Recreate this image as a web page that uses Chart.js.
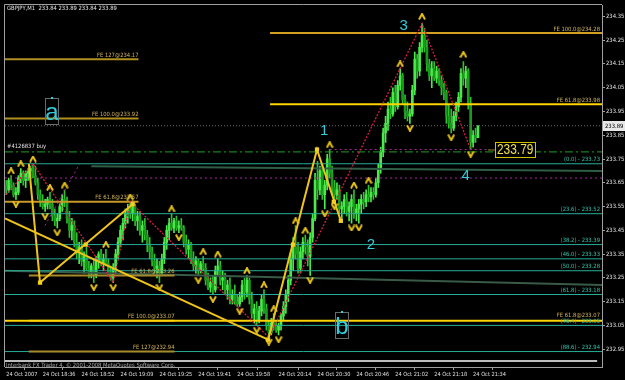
<!DOCTYPE html>
<html><head><meta charset="utf-8"><title>GBPJPY M1</title>
<script src="https://cdn.jsdelivr.net/npm/chart.js@4/dist/chart.umd.min.js"></script>
<style>html,body{margin:0;padding:0;background:#000;overflow:hidden}canvas{display:block}</style>
</head><body>
<canvas id="c" width="625" height="380"></canvas>
<script>
// ================= DATA =================
const symbol = 'GBPJPY,M1';
const opens = [
233.64,233.62,233.66,233.64,233.60,233.61,233.67,233.69,233.66,233.69,
233.70,233.71,233.68,233.65,233.60,233.57,233.55,233.56,233.58,233.56,
233.51,233.49,233.50,233.55,233.58,233.57,233.50,233.45,233.47,233.40,
233.36,233.38,233.32,233.34,233.29,233.27,233.30,233.26,233.32,233.35,
233.31,233.33,233.31,233.27,233.25,233.29,233.35,233.40,233.45,233.48,
233.52,233.54,233.52,233.55,233.49,233.51,233.45,233.47,233.43,233.39,
233.36,233.32,233.29,233.30,233.27,233.33,233.40,233.45,233.48,233.46,
233.49,233.46,233.47,233.46,233.40,233.37,233.39,233.33,233.30,233.32,
233.28,233.31,233.29,233.24,233.21,233.23,233.20,233.28,233.30,233.24,
233.25,233.20,233.22,233.16,233.18,233.15,233.14,233.17,233.22,233.19,
233.24,233.16,233.10,233.12,233.07,233.11,233.16,233.12,233.05,233.02,
233.06,233.05,233.03,233.05,233.09,233.13,233.18,233.24,233.33,233.38,
233.35,233.29,233.36,233.40,233.38,233.34,233.42,233.50,233.66,233.62,
233.70,233.60,233.64,233.75,233.69,233.63,233.60,233.62,233.54,233.55,
233.58,233.53,233.55,233.58,233.52,233.54,233.56,233.58,233.57,233.60,
233.59,233.61,233.60,233.65,233.71,233.78,233.86,233.90,233.96,233.94,
234.03,233.97,234.06,234.10,234.00,233.95,233.93,233.94,234.04,234.17,
234.12,234.22,234.27,234.22,234.15,234.10,234.13,234.09,234.12,234.08,
234.05,234.03,233.93,233.90,233.88,233.93,233.97,234.01,234.11,234.09,
234.12,233.98,233.82,233.85,233.84];
const highs = [
233.66,233.67,233.68,233.65,233.63,233.68,233.71,233.70,233.70,233.71,
233.72,233.73,233.72,233.67,233.62,233.60,233.58,233.59,233.61,233.58,
233.54,233.52,233.57,233.60,233.62,233.59,233.53,233.50,233.49,233.44,
233.40,233.41,233.36,233.38,233.32,233.31,233.33,233.34,233.36,233.37,
233.35,233.37,233.33,233.30,233.31,233.37,233.42,233.47,233.50,233.54,
233.56,233.57,233.56,233.56,233.53,233.53,233.49,233.50,233.45,233.42,
233.38,233.35,233.33,233.32,233.35,233.42,233.47,233.50,233.52,233.50,
233.51,233.49,233.50,233.47,233.43,233.41,233.40,233.36,233.34,233.33,
233.32,233.34,233.31,233.27,233.25,233.26,233.30,233.33,233.32,233.28,
233.27,233.24,233.25,233.20,233.22,233.18,233.19,233.24,233.25,233.26,
233.25,233.19,233.14,233.15,233.13,233.18,233.20,233.14,233.07,233.08,
233.10,233.07,233.06,233.10,233.15,233.20,233.26,233.36,233.42,233.47,
233.40,233.38,233.42,233.43,233.41,233.44,233.52,233.69,233.74,233.72,
233.73,233.66,233.77,233.79,233.72,233.66,233.65,233.64,233.57,233.60,
233.61,233.57,233.60,233.62,233.56,233.58,233.60,233.61,233.62,233.64,
233.63,233.63,233.67,233.73,233.80,233.88,233.93,233.99,234.01,234.05,
234.06,234.08,234.13,234.11,234.02,233.99,233.96,234.06,234.20,234.19,
234.24,234.32,234.30,234.25,234.17,234.16,234.16,234.14,234.13,234.10,
234.07,234.04,233.98,233.96,233.95,233.99,234.03,234.13,234.16,234.14,
234.13,234.01,233.87,233.88,233.89];
const lows = [
233.60,233.61,233.62,233.59,233.58,233.60,233.65,233.64,233.63,233.66,
233.67,233.67,233.64,233.58,233.55,233.54,233.53,233.54,233.54,233.49,
233.47,233.46,233.49,233.53,233.55,233.48,233.42,233.41,233.38,233.33,
233.31,233.30,233.27,233.28,233.25,233.25,233.23,233.25,233.29,233.30,
233.28,233.30,233.26,233.24,233.23,233.27,233.33,233.38,233.41,233.46,
233.48,233.50,233.49,233.47,233.45,233.43,233.40,233.41,233.36,233.33,
233.30,233.27,233.25,233.23,233.26,233.31,233.37,233.41,233.45,233.44,
233.45,233.44,233.45,233.38,233.35,233.33,233.31,233.28,233.27,233.26,
233.27,233.28,233.22,233.20,233.19,233.18,233.19,233.26,233.22,233.20,
233.18,233.16,233.14,233.14,233.14,233.13,233.13,233.15,233.16,233.17,
233.14,233.08,233.06,233.05,233.06,233.09,233.10,233.03,233.00,233.01,
233.03,233.02,233.01,233.03,233.07,233.10,233.15,233.22,233.28,233.33,
233.27,233.27,233.33,233.35,233.30,233.26,233.40,233.49,233.58,233.60,
233.58,233.54,233.62,233.67,233.60,233.57,233.58,233.52,233.50,233.52,
233.51,233.49,233.48,233.50,233.49,233.48,233.52,233.54,233.55,233.57,
233.57,233.58,233.59,233.63,233.69,233.76,233.82,233.87,233.92,233.93,
233.95,233.96,234.04,233.98,233.92,233.91,233.90,233.93,234.02,234.09,
234.10,234.20,234.20,234.12,234.08,234.05,234.08,234.07,234.06,234.02,
234.00,233.90,233.88,233.86,233.87,233.91,233.95,233.99,234.06,234.05,
233.96,233.79,233.80,233.82,233.84];
const closes = [
233.62,233.66,233.64,233.60,233.61,233.67,233.69,233.66,233.69,233.70,
233.71,233.68,233.65,233.60,233.57,233.55,233.56,233.58,233.56,233.51,
233.49,233.50,233.55,233.58,233.57,233.50,233.45,233.47,233.40,233.36,
233.38,233.32,233.34,233.29,233.27,233.30,233.26,233.32,233.35,233.31,
233.33,233.31,233.27,233.25,233.29,233.35,233.40,233.45,233.48,233.52,
233.54,233.52,233.55,233.49,233.51,233.45,233.47,233.43,233.39,233.36,
233.32,233.29,233.30,233.27,233.33,233.40,233.45,233.48,233.46,233.49,
233.46,233.47,233.46,233.40,233.37,233.39,233.33,233.30,233.32,233.28,
233.31,233.29,233.24,233.21,233.23,233.20,233.28,233.30,233.24,233.25,
233.20,233.22,233.16,233.18,233.15,233.14,233.17,233.22,233.19,233.24,
233.16,233.10,233.12,233.07,233.11,233.16,233.12,233.05,233.02,233.06,
233.05,233.03,233.05,233.09,233.13,233.18,233.24,233.33,233.38,233.35,
233.29,233.36,233.40,233.38,233.34,233.42,233.50,233.66,233.62,233.70,
233.60,233.64,233.75,233.69,233.63,233.60,233.62,233.54,233.55,233.58,
233.53,233.55,233.58,233.52,233.54,233.56,233.58,233.57,233.60,233.59,
233.61,233.60,233.65,233.71,233.78,233.86,233.90,233.96,233.94,234.03,
233.97,234.06,234.10,234.00,233.95,233.93,233.94,234.04,234.17,234.12,
234.22,234.27,234.22,234.15,234.10,234.13,234.09,234.12,234.08,234.05,
234.03,233.93,233.90,233.88,233.93,233.97,234.01,234.11,234.09,234.12,
233.98,233.82,233.85,233.84,233.89];

const timeTickBars = [0,15,31,47,63,79,95,112,128,144,160,176,192];
const timeTickLabels = ['24 Oct 2007','24 Oct 18:36','24 Oct 18:52','24 Oct 19:09','24 Oct 19:25','24 Oct 19:41',
  '24 Oct 19:58','24 Oct 20:14','24 Oct 20:30','24 Oct 20:46','24 Oct 21:02','24 Oct 21:18','24 Oct 21:34'];
const priceTicks = [232.95,233.05,233.15,233.25,233.35,233.45,233.55,233.65,233.75,233.85,233.95,234.05,234.15,234.25,234.35];

const upFractalBars   = [2,6,11,18,24,41,51,68,81,87,99,106,110,119,123,133,143,149,162,171,188];
const upFractalPrices = [233.70,233.73,233.75,233.63,233.64,233.39,233.59,233.54,233.36,233.35,233.28,233.22,233.12,233.49,233.45,233.81,233.64,233.66,234.15,234.35,234.19];
const downFractalBars   = [4,16,21,36,44,63,71,79,85,96,103,108,112,125,131,135,142,145,166,183,191];
const downFractalPrices = [233.56,233.51,233.44,233.21,233.21,233.21,233.42,233.24,233.16,233.11,233.03,232.98,232.99,233.24,233.52,233.55,233.46,233.46,233.88,233.84,233.77];

const fibLevels = ['0.0','23.6','38.2','46.0','50.0','61.8','76.4','88.6'];
const fibPrices = [233.73,233.52,233.39,233.33,233.28,233.18,233.05,232.94];

const feLeftLabels = ['FE 127@234.17','FE 100.0@233.92','FE 61.8@233.57'];
const feLeftPrices = [234.17,233.92,233.57];
const feLeftSpan = [-0.5,54.4];
const feMidLabels = ['FE 61.8@233.26','FE 100.0@233.07','FE 127@232.94'];
const feMidPrices = [233.26,233.07,232.94];
const feMidSpan = [9.3,69.2];
const feRightLabels = ['FE 100.0@234.28','FE 61.8@233.98'];
const feRightPrices = [234.28,233.98];
const feRightSpan = [108.5,245];
const feFullLabel = 'FE 61.8@233.07';
const feFullPrice = 233.07;

const zigzagBars   = [0,11,44,51,108,171,191];
const zigzagPrices = [233.60,233.73,233.23,233.57,233.00,234.32,233.79];
const waveABars = [9.3,13.9,52];       const waveAPrices = [233.73,233.23,233.56];
const waveBBars = [-0.5,107.7];        const waveBPrices = [233.50,232.99];
const wave12Bars = [107.7,127.8,137.6]; const wave12Prices = [232.99,233.79,233.49];
const markerBars   = [13.9,32.7,52,107.7,117.9,127.8,134.7,137.6];
const markerPrices = [233.23,233.39,233.56,232.99,233.39,233.79,233.57,233.49];

const waveLabels = ['1','2','3','4'];
const waveLabelBars = [130.7,150,163.4,188.9];
const waveLabelPrices = [233.87,233.39,234.31,233.68];
const boxLabels = ['a','b'];
const boxBars = [18.8,138];
const boxPrices = [233.95,233.05];

const orderTicket = '#4126837 buy';
const orderPrice = 233.78;
const arrowPrice = 233.79;
const arrowBar = 201;
const purpleLevel = 233.67;
const purpleShortPrice = 233.79;
const purpleShortSpan = [133,199];
const purpleDiagBars = [15.9,30.2];  const purpleDiagPrices = [233.47,233.73];
const dimUpperBars = [35,245];       const dimUpperPrices = [233.72,233.70];
const dimLowerBars = [-0.5,245];     const dimLowerPrices = [233.28,233.22];
const greyLevel = 232.90;
const copyright = 'Interbank FX Trader 4, \u00a9 2001-2008 MetaQuotes Software Corp.';

const xMin = -0.5, xMax = 245;
const yMin = 232.875, yMax = 234.398;

// ================= STYLE =================
const measureCtx = document.createElement('canvas').getContext('2d');
function fontOK(name){
  const s='234.35 24 Oct 18:36 FE abc';
  measureCtx.font='40px monospace'; const w1=measureCtx.measureText(s).width;
  measureCtx.font="40px '"+name+"', monospace"; const w2=measureCtx.measureText(s).width;
  return Math.abs(w1-w2)>0.5;
}
let FAM = "'Liberation Sans', sans-serif";
if (fontOK('Liberation Sans Narrow')) FAM = "'Liberation Sans Narrow', sans-serif";
else if (fontOK('DejaVu Sans Condensed')) FAM = "'DejaVu Sans Condensed', sans-serif";
function unitWidth(s){ measureCtx.font='100px '+FAM; return measureCtx.measureText(s).width/100; }
const titleText = symbol+'  '+opens[opens.length-1].toFixed(2)+' '+highs[highs.length-1].toFixed(2)+' '+lows[lows.length-1].toFixed(2)+' '+closes[closes.length-1].toFixed(2);
const FSX = Math.min(9, 33/unitWidth('24 Oct 18:36'));
const FSY = Math.min(9, 18.5/unitWidth('234.35'));
const FST = Math.min(9, 110/unitWidth(titleText));

const BULL='#4be94b', BEAR='#1a9a1a', BEAR_WICK='#2fbf2f';
const TEAL='#26ad98', FE_TEXT='#d0b25a', CYAN='#33ccdd', YEL='#f0c419';

function pts(xs, ys){ return xs.map((x,i)=>({x:x, y:ys[i]})); }
function lineDS(data, color, width, dash, order){
  return {type:'line', data:data, borderColor:color, borderWidth:width, borderDash:dash||[],
          pointRadius:0, fill:false, tension:0, order:(order===undefined?10:order)};
}
function chevron(up){
  const c=document.createElement('canvas'); c.width=8; c.height=7;
  const g=c.getContext('2d'); g.strokeStyle='#e6c21a'; g.lineWidth=2; g.beginPath();
  if(up){ g.moveTo(1,6.5); g.lineTo(4,1); g.lineTo(7,6.5); }
  else { g.moveTo(1,0.5); g.lineTo(4,6); g.lineTo(7,0.5); }
  g.stroke(); return c;
}
const isUp = i => closes[i] >= opens[i];

const datasets = [];
datasets.push({type:'bar', data: highs.map((h,i)=>({x:i, y:[lows[i], h]})), barThickness:1, grouped:false,
  backgroundColor: ctx => isUp(ctx.dataIndex) ? BULL : BEAR_WICK, borderWidth:0, order:100});
datasets.push({type:'bar', data: opens.map((o,i)=>({x:i, y:[o, closes[i]]})), barThickness:2, grouped:false, minBarLength:1,
  backgroundColor: ctx => isUp(ctx.dataIndex) ? BULL : BEAR, borderWidth:0, order:99});
datasets.push(lineDS(pts(dimUpperBars, dimUpperPrices), '#2e5e46', 2, [], 30));
datasets.push(lineDS(pts(dimLowerBars, dimLowerPrices), '#3a5a48', 2, [], 30));
fibPrices.forEach(p => datasets.push(lineDS(pts([xMin,xMax],[p,p]), TEAL, 1, [], 20)));
datasets.push(lineDS(pts([xMin,xMax],[purpleLevel,purpleLevel]), '#a02898', 1, [2,3], 18));
datasets.push(lineDS(pts(purpleShortSpan,[purpleShortPrice,purpleShortPrice]), '#a02898', 1, [2,3], 18));
datasets.push(lineDS(pts(purpleDiagBars, purpleDiagPrices), '#a02898', 1, [2,3], 18));
datasets.push(lineDS(pts([xMin,xMax],[orderPrice,orderPrice]), '#1ea01e', 1, [8,3,2,3], 17));
datasets.push(lineDS(pts([xMin,xMax],[closes[closes.length-1],closes[closes.length-1]]), '#6a6a6a', 1, [1,2], 17));
datasets.push(lineDS(pts([xMin,243],[greyLevel,greyLevel]), '#bdbdbd', 2, [], 17));
feLeftPrices.forEach((p,i) => datasets.push(lineDS(pts(feLeftSpan,[p,p]), i===2?'#c8982a':'#b09020', 2, [], 15)));
feMidPrices.forEach((p,i) => datasets.push(lineDS(pts(feMidSpan,[p,p]), '#a88a2a', 2, [], 15)));
datasets.push(lineDS(pts(feRightSpan,[feRightPrices[0],feRightPrices[0]]), '#d4a020', 2, [], 14));
datasets.push(lineDS(pts(feRightSpan,[feRightPrices[1],feRightPrices[1]]), '#ffd400', 2, [], 14));
datasets.push(lineDS(pts([xMin,xMax],[feFullPrice,feFullPrice]), '#ffd400', 2, [], 14));
datasets.push(lineDS(pts(zigzagBars, zigzagPrices), '#d81a44', 1.3, [2,1.5], 12));
datasets.push(lineDS(pts(waveBBars, waveBPrices), YEL, 2, [], 11));
datasets.push(lineDS(pts(waveABars, waveAPrices), YEL, 2, [], 11));
datasets.push(lineDS(pts(wave12Bars, wave12Prices), YEL, 2, [], 11));
datasets.push({type:'line', data: pts(markerBars, markerPrices), showLine:false, pointStyle:'rect', pointRadius:3,
  pointBackgroundColor:'#f5d020', pointBorderWidth:0, order:4});
datasets.push({type:'line', data: pts(upFractalBars, upFractalPrices), showLine:false, pointStyle: chevron(true), pointRadius:4, order:5});
datasets.push({type:'line', data: pts(downFractalBars, downFractalPrices), showLine:false, pointStyle: chevron(false), pointRadius:4, order:5});

const overlay = {
  id:'overlay',
  beforeDraw(chart){ const c=chart.ctx; c.save(); c.fillStyle='#000'; c.fillRect(0,0,chart.width,chart.height); c.restore(); },
  afterDatasetsDraw(chart){
    const c=chart.ctx, xs=chart.scales.x, ys=chart.scales.y, a=chart.chartArea;
    const X=v=>xs.getPixelForValue(v), Y=v=>ys.getPixelForValue(v);
    c.save();
    c.font = FST+'px '+FAM;
    c.textBaseline='bottom'; c.textAlign='right';
    c.fillStyle=FE_TEXT;
    feLeftLabels.forEach((t,i)=>c.fillText(t, X(feLeftSpan[1]), Y(feLeftPrices[i])-1));
    feMidLabels.forEach((t,i)=>c.fillText(t, X(feMidSpan[1]), Y(feMidPrices[i])-1));
    feRightLabels.forEach((t,i)=>c.fillText(t, a.right-2, Y(feRightPrices[i])-1));
    c.fillText(feFullLabel, a.right-2, Y(feFullPrice)-2);
    c.fillStyle='#30c0a8';
    fibLevels.forEach((l,i)=>c.fillText('('+l+') - '+fibPrices[i].toFixed(2), a.right-2, Y(fibPrices[i])-1));
    c.textAlign='left'; c.textBaseline='top'; c.fillStyle='#e0e0e0';
    c.fillText(titleText, a.left+2, a.top+1);
    c.textBaseline='bottom';
    c.fillText(orderTicket, a.left+2, Y(orderPrice)-2);
    c.fillStyle='#a8a8a8';
    c.fillText(copyright, a.left+1, a.bottom+1);
    c.fillStyle=CYAN; c.textAlign='center'; c.textBaseline='middle';
    c.font="15px 'Liberation Sans', sans-serif";
    waveLabels.forEach((t,i)=>c.fillText(t, X(waveLabelBars[i]), Y(waveLabelPrices[i])));
    boxLabels.forEach((t,i)=>{
      const cx=X(boxBars[i]), cy=Y(boxPrices[i]);
      c.strokeStyle='#6a6a6a'; c.lineWidth=1;
      c.strokeRect(Math.round(cx-6.5)+0.5, Math.round(cy-13)+0.5, 13, 26);
      c.fillStyle=CYAN; c.font="24px 'Liberation Sans', sans-serif";
      c.fillText(t, cx, cy+2);
      c.fillRect(Math.round(cx)-1, Math.round(cy-13)-1, 2, 2);
    });
    const bx=X(arrowBar), by=Y(arrowPrice);
    c.font="14px 'Liberation Sans', sans-serif";
    const txt=arrowPrice.toFixed(2);
    const tw=c.measureText(txt).width;
    const bw=Math.round(tw*0.85+4);
    c.strokeStyle='#8a8020'; c.beginPath(); c.moveTo(bx-7, by+0.5); c.lineTo(bx, by+0.5); c.stroke();
    c.fillStyle='#000'; c.fillRect(bx, by-7.5, bw, 15);
    c.strokeStyle='#d0c000'; c.strokeRect(Math.round(bx)+0.5, Math.round(by-7.5)+0.5, bw, 15);
    c.save(); c.translate(bx+2, by+1); c.scale(0.85,1);
    c.fillStyle='#f0e050'; c.textAlign='left'; c.textBaseline='middle';
    c.fillText(txt, 0, 0);
    c.restore();
    c.restore();
  },
  afterDraw(chart){
    const c=chart.ctx, a=chart.chartArea, ys=chart.scales.y;
    c.save();
    c.strokeStyle='#a0a0a0'; c.lineWidth=1;
    c.beginPath(); c.moveTo(a.left-0.5, a.bottom); c.lineTo(a.left-0.5, a.top-0.5); c.lineTo(a.right, a.top-0.5); c.stroke();
    const bid=closes[closes.length-1]; const y=ys.getPixelForValue(bid);
    c.fillStyle='#e8e8e8'; c.fillRect(a.right+1, Math.round(y)-5, chart.width-a.right-1, 10);
    c.fillStyle='#000'; c.font=FSY+'px '+FAM; c.textAlign='left'; c.textBaseline='middle';
    c.fillText(bid.toFixed(2), a.right+3, Math.round(y)+0.5);
    c.restore();
  }
};

Chart.defaults.font.family = FAM;
Chart.defaults.font.size = FSX;
new Chart(document.getElementById('c'), {
  type:'line',
  data:{datasets:datasets},
  options:{
    responsive:false, animation:false, events:[], devicePixelRatio:1,
    layout:{padding:{left:3, top:3, right:0, bottom:0}},
    plugins:{legend:{display:false}, tooltip:{enabled:false}},
    scales:{
      x:{type:'linear', min:xMin, max:xMax, offset:false,
         grid:{drawOnChartArea:false, drawTicks:true, tickLength:3, color:'#a0a0a0'},
         border:{display:true, color:'#a0a0a0'},
         ticks:{align:'start', autoSkip:false, maxRotation:0, minRotation:0, padding:1, color:'#e0e0e0',
                font:{family:FAM, size:FSX}, callback:(v,i)=>timeTickLabels[i]},
         afterBuildTicks:s=>{ s.ticks = timeTickBars.map(v=>({value:v})); },
         afterFit:s=>{ s.height=13; s.paddingLeft=0; s.paddingRight=0; }},
      y:{type:'linear', position:'right', min:yMin, max:yMax,
         grid:{drawOnChartArea:false, tickLength:3, color:'#a0a0a0'},
         border:{display:true, color:'#a0a0a0'},
         ticks:{padding:1, color:'#e0e0e0', font:{family:FAM, size:FSY}, callback:v=>Number(v).toFixed(2)},
         afterBuildTicks:s=>{ s.ticks = priceTicks.map(v=>({value:v})); },
         afterFit:s=>{ s.width=23; s.paddingTop=0; s.paddingBottom=0; }}
    }
  },
  plugins:[overlay]
});
</script>
</body></html>
